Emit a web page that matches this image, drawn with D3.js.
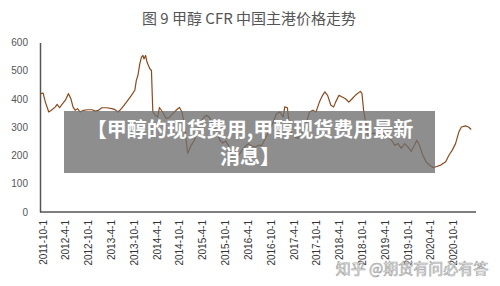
<!DOCTYPE html>
<html>
<head>
<meta charset="utf-8">
<script src="https://cdn.jsdelivr.net/npm/d3@7"></script>
<style>
  body { margin: 0; background: #fff; }
  svg { display: block; }
</style>
</head>
<body>
<div id="container"></div>
<script>
// weekly-ish samples of CFR China methanol price (USD/t)
var dates = [
    "2011-09-12", "2011-10-06", "2011-10-24", "2011-11-20", "2011-12-16",
    "2012-01-12", "2012-01-26", "2012-02-15", "2012-03-05", "2012-03-31",
    "2012-04-26", "2012-05-15", "2012-06-01", "2012-06-19", "2012-07-07",
    "2012-07-28", "2012-08-25", "2012-09-25", "2012-11-01", "2012-11-25",
    "2012-12-22", "2013-01-18", "2013-02-27", "2013-04-06", "2013-05-01",
    "2013-05-28", "2013-06-24", "2013-08-03", "2013-09-12", "2013-10-09",
    "2013-10-21", "2013-11-03", "2013-11-18", "2013-12-01", "2013-12-13",
    "2013-12-21", "2014-01-03", "2014-01-15", "2014-02-06", "2014-02-19",
    "2014-03-02", "2014-03-22", "2014-04-10", "2014-04-24", "2014-05-19",
    "2014-06-16", "2014-07-12", "2014-08-09", "2014-09-04", "2014-10-01",
    "2014-10-22", "2014-11-09", "2014-12-06", "2015-01-03", "2015-01-28",
    "2015-02-24", "2015-03-21", "2015-04-16", "2015-05-10", "2015-06-03",
    "2015-06-26", "2015-07-24", "2015-08-21", "2015-09-14", "2015-10-07",
    "2015-10-31", "2015-11-27", "2015-12-23", "2016-01-19", "2016-02-14",
    "2016-03-12", "2016-04-07", "2016-05-03", "2016-05-30", "2016-06-25",
    "2016-07-21", "2016-08-12", "2016-09-12", "2016-10-21", "2016-11-16",
    "2016-12-13", "2017-01-08", "2017-01-21", "2017-02-11", "2017-03-03",
    "2017-04-11", "2017-05-07", "2017-06-02", "2017-07-11", "2017-08-07",
    "2017-09-02", "2017-09-28", "2017-10-25", "2017-11-20", "2017-12-08",
    "2017-12-30", "2018-01-25", "2018-02-16", "2018-03-04", "2018-03-31",
    "2018-04-26", "2018-05-22", "2018-06-18", "2018-07-14", "2018-08-09",
    "2018-09-18", "2018-10-01", "2018-10-14", "2018-10-27", "2018-11-23",
    "2018-12-19", "2019-01-28", "2019-02-23", "2019-03-21", "2019-04-30",
    "2019-05-26", "2019-06-21", "2019-07-17", "2019-08-12", "2019-09-08",
    "2019-10-04", "2019-10-30", "2019-11-25", "2019-12-14", "2020-01-04",
    "2020-01-31", "2020-02-26", "2020-03-23", "2020-04-18", "2020-05-14",
    "2020-06-23", "2020-08-01", "2020-08-27", "2020-09-23", "2020-10-19",
    "2020-11-14", "2020-12-05", "2021-01-05", "2021-01-31", "2021-02-21"
];

var prices = [
    419, 421, 389, 354, 362,
    372, 381, 369, 381, 395,
    419, 401, 372, 360, 366,
    354, 360, 362, 362, 357,
    360, 369, 369, 366, 363,
    354, 366, 389, 413, 431,
    466, 484, 525, 548, 554,
    542, 554, 530, 507, 501,
    354, 342, 336, 370, 354,
    331, 334, 348, 360, 370,
    354, 307, 208, 236, 254,
    289, 319, 336, 342, 332,
    307, 289, 254, 244, 251,
    233, 201, 212, 201, 219,
    233, 242, 233, 230, 236,
    236, 254, 282, 319, 348,
    354, 336, 372, 369, 289,
    266, 260, 278, 313, 354,
    360, 354, 389, 413, 425,
    413, 378, 372, 389, 413,
    407, 401, 389, 401, 413,
    427, 419, 360, 325, 266,
    278, 278, 266, 278, 266,
    254, 236, 242, 225, 242,
    230, 215, 236, 254, 236,
    201, 178, 166, 158, 160,
    166, 178, 201, 219, 242,
    283, 301, 305, 301, 292
];

var tickDates = [
    "2011-10-1", "2012-4-1", "2012-10-1", "2013-4-1", "2013-10-1",
    "2014-4-1", "2014-10-1", "2015-4-1", "2015-10-1", "2016-4-1",
    "2016-10-1", "2017-4-1", "2017-10-1", "2018-4-1", "2018-10-1",
    "2019-4-1", "2019-10-1", "2020-4-1", "2020-10-1"
];

var yTicks = [0, 100, 200, 300, 400, 500, 600];

var title = "图 9  甲醇 CFR 中国主港价格走势";
var bannerLines = ["【甲醇的现货费用,甲醇现货费用最新", "消息】"];
var watermark = "知乎 @期货有问必有答";

var width = 500, height = 286;
var parse = d3.timeParse("%Y-%m-%d");

var data = dates.map(function (d, i) { return { date: parse(d), value: prices[i] }; });
var ticks = tickDates.map(function (d) { return parse(d.replace(/-(\d)-/, "-0$1-").replace(/-(\d)$/, "-0$1")); });

var svg = d3.select("#container").append("svg")
    .attr("width", width)
    .attr("height", height)
    .style("background", "#fff");

var x = d3.scaleTime()
    .domain([ticks[0], ticks[ticks.length - 1]])
    .range([42.5, 453.3]);

var y = d3.scaleLinear()
    .domain([0, 600])
    .range([212, 42.5]);

// title
svg.append("text")
    .attr("x", 249)
    .attr("y", 17)
    .attr("text-anchor", "middle")
    .attr("dominant-baseline", "central")
    .style("font-family", "'Noto Sans CJK SC', 'Noto Sans', sans-serif")
    .style("font-size", "15px")
    .style("fill", "#555")
    .text(title);

// y axis
var yAxis = svg.append("g")
    .attr("transform", "translate(40,0)")
    .call(d3.axisLeft(y).tickValues(yTicks).tickSize(0).tickPadding(12));
yAxis.select(".domain").attr("stroke", "#555").attr("stroke-width", 1.5);
yAxis.selectAll("text")
    .style("font-family", "'Liberation Sans', Arial, sans-serif")
    .style("font-size", "10px")
    .style("fill", "#555");

// x axis
var xAxis = svg.append("g")
    .attr("transform", "translate(0,212)")
    .call(d3.axisBottom(x)
        .tickValues(ticks)
        .tickSize(0)
        .tickFormat(function (d, i) { return tickDates[i]; }));
xAxis.select(".domain")
    .attr("d", "M40,0H476")
    .attr("stroke", "#555")
    .attr("stroke-width", 1.5);
xAxis.selectAll("text")
    .attr("transform", "rotate(-90)")
    .attr("text-anchor", "end")
    .attr("x", -8)
    .attr("y", 0)
    .attr("dy", "0.35em")
    .style("font-family", "'Liberation Sans', Arial, sans-serif")
    .style("font-size", "10px")
    .style("fill", "#333");

// price line
var line = d3.line()
    .x(function (d) { return x(d.date); })
    .y(function (d) { return y(d.value); });

svg.append("path")
    .datum(data)
    .attr("fill", "none")
    .attr("stroke", "#8b4a1e")
    .attr("stroke-width", 1.2)
    .attr("stroke-linejoin", "round")
    .attr("d", line);

// banner over the chart
svg.append("rect")
    .attr("x", 64)
    .attr("y", 111)
    .attr("width", 371)
    .attr("height", 62)
    .attr("fill", "rgba(110,110,110,0.78)");

svg.selectAll(".banner")
    .data(bannerLines)
    .enter()
    .append("text")
    .attr("class", "banner")
    .attr("x", 250)
    .attr("y", function (d, i) { return 128 + i * 27; })
    .attr("text-anchor", "middle")
    .attr("dominant-baseline", "central")
    .style("font-family", "'Noto Sans CJK SC', sans-serif")
    .style("font-weight", "bold")
    .style("font-size", "20px")
    .style("fill", "#fff")
    .text(function (d) { return d; });

// watermark
svg.append("text")
    .attr("x", 412)
    .attr("y", 267)
    .attr("text-anchor", "middle")
    .attr("dominant-baseline", "central")
    .style("font-family", "'Noto Sans CJK SC', sans-serif")
    .style("font-size", "15px")
    .style("fill", "rgba(255,255,255,0.7)")
    .style("stroke", "#a8a8a8")
    .style("stroke-width", 0.7)
    .text(watermark);
</script>
</body>
</html>
